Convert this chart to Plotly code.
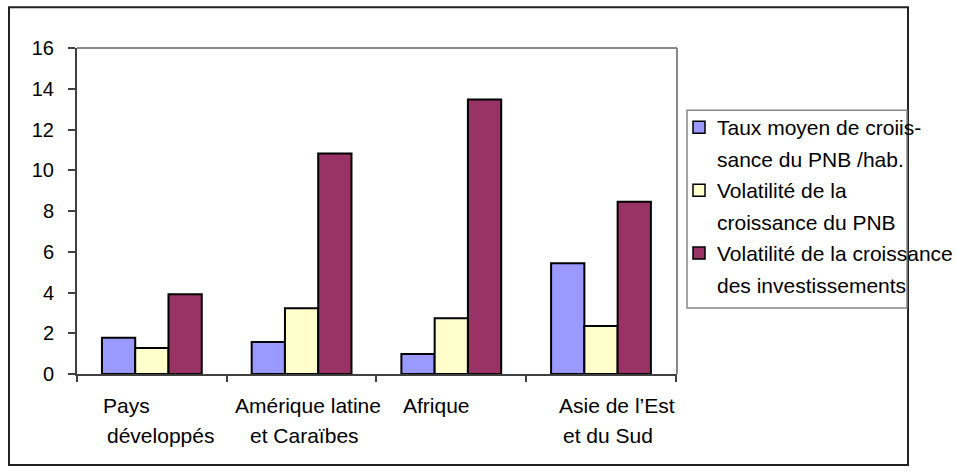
import plotly.graph_objects as go

categories = ["Pays développés", "Amérique latine et Caraïbes", "Afrique", "Asie de l’Est et du Sud"]
label_lines = [["Pays", "développés"], ["Amérique latine", "et Caraïbes"], ["Afrique"], ["Asie de l’Est", "et du Sud"]]
label_shifts = [[-51, -47], [-69, -54], [-50], [-44, -40]]

series_names = ["Taux moyen de croiis-\nsance du PNB /hab.",
                "Volatilité de la\ncroissance du PNB",
                "Volatilité de la croissance\ndes investissements"]
taux_moyen = [1.78, 1.57, 0.98, 5.43]
volat_pnb = [1.27, 3.23, 2.74, 2.35]
volat_invest = [3.92, 10.82, 13.47, 8.45]
series_values = [taux_moyen, volat_pnb, volat_invest]
colors = ["#9999FF", "#FFFFCC", "#993366"]

y_ticks = [0, 2, 4, 6, 8, 10, 12, 14, 16]

W, H = 957, 473
L, R, T, B = 77, 677, 47.7, 374
FONT = "Liberation Sans, Arial, sans-serif"

def px_x(px):
    return (px - L) / (R - L)

def px_y(py):
    return (B - py) / (B - T)

fig = go.Figure()
for name, vals, col in zip(series_names, series_values, colors):
    fig.add_trace(go.Bar(x=categories, y=vals, name=name.replace("\n", " "),
                         marker=dict(color=col, line=dict(color="black", width=2)),
                         showlegend=False))

shapes = []
annotations = []

# outer chart border
shapes.append(dict(type="rect", xref="paper", yref="paper",
                   x0=px_x(9), x1=px_x(908), y0=px_y(465), y1=px_y(7),
                   line=dict(color="#222222", width=2), layer="below"))
# plot area border top & right (grey)
shapes.append(dict(type="line", xref="paper", yref="paper", x0=0, x1=1, y0=1, y1=1,
                   line=dict(color="#888888", width=2)))
shapes.append(dict(type="line", xref="paper", yref="paper", x0=1, x1=1, y0=0, y1=1,
                   line=dict(color="#888888", width=2)))
# legend box
shapes.append(dict(type="rect", xref="paper", yref="paper",
                   x0=px_x(687), x1=px_x(907), y0=px_y(308), y1=px_y(110),
                   line=dict(color="#888888", width=1.5), fillcolor="white", layer="below"))

entry_y = [127, 190, 253]
for i, (name, col) in enumerate(zip(series_names, colors)):
    cy = entry_y[i]
    shapes.append(dict(type="rect", xref="paper", yref="paper",
                       x0=px_x(693), x1=px_x(705), y0=px_y(cy + 6), y1=px_y(cy - 6),
                       fillcolor=col, line=dict(color="black", width=1.5)))
    for j, line in enumerate(name.split("\n")):
        annotations.append(dict(text=line, xref="paper", yref="paper",
                                x=px_x(715), y=px_y(cy + 30 * j + (2 if j else 0)),
                                xanchor="left", yanchor="middle", showarrow=False,
                                font=dict(family=FONT, size=21, color="black")))

# category labels
for cat, lines, shifts in zip(categories, label_lines, label_shifts):
    for j, (line, sh) in enumerate(zip(lines, shifts)):
        annotations.append(dict(text=line, x=cat, xref="x", yref="paper", y=0,
                                xanchor="left", yanchor="middle", xshift=sh,
                                yshift=-(31 + 30 * j), showarrow=False,
                                font=dict(family=FONT, size=21, color="black")))

fig.update_layout(
    width=W, height=H,
    margin=dict(l=L, r=W - R, t=T, b=H - B, pad=0),
    paper_bgcolor="white", plot_bgcolor="white",
    barmode="group", bargap=1/3, bargroupgap=0,
    font=dict(family=FONT, size=20, color="black"),
    shapes=shapes, annotations=annotations,
    xaxis=dict(type="category", showticklabels=False, ticks="outside", tickson="boundaries",
               ticklen=6, tickwidth=2, tickcolor="#404040",
               showline=True, linecolor="#404040", linewidth=2, showgrid=False, zeroline=False),
    yaxis=dict(range=[0, 16], tickvals=y_ticks, ticks="outside", ticklen=7, tickwidth=2,
               tickcolor="#404040", showline=True, linecolor="#404040", linewidth=2,
               showgrid=False, zeroline=False, ticklabelstandoff=10,
               tickfont=dict(family=FONT, size=20, color="black")),
)

fig.write_html("out.html", config={"displayModeBar": False},
               post_script="document.body.style.margin='0';document.body.style.overflow='hidden';")
